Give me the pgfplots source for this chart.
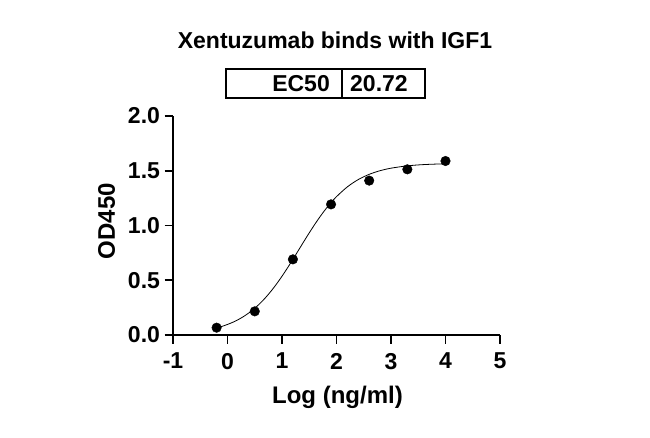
\documentclass[border=0pt]{standalone}
\usepackage{fontspec}
\setmainfont{Liberation Sans}
\usepackage{pgfplots}
\pgfplotsset{compat=1.18}
\begin{document}
\begin{tikzpicture}[x=1pt,y=1pt]
\useasboundingbox (0pt,0pt) rectangle (650pt,437pt);
% title and EC50 box
\node[anchor=base,font=\fontsize{23}{23}\selectfont\bfseries,inner sep=0] at (335pt,388pt) {Xentuzumab binds with IGF1};
\draw[line width=1.6pt] (226pt,339pt) rectangle (425pt,368pt);
\draw[line width=1.6pt] (342pt,339pt) -- (342pt,368pt);
\node[anchor=base east,font=\fontsize{23}{23}\selectfont\bfseries,inner sep=0] at (330pt,345.5pt) {EC50};
\node[anchor=base west,font=\fontsize{23}{23}\selectfont\bfseries,inner sep=0] at (350pt,345.5pt) {20.72};
\begin{axis}[
  at={(173pt,102pt)}, anchor=south west,
  width=327pt, height=219pt, scale only axis,
  xmin=-1, xmax=5, ymin=0, ymax=2,
  axis x line*=bottom, axis y line*=left,
  axis line style={line width=1.8pt},
  xtick={-1,0,1,2,3,4,5},
  ytick={0,0.5,1,1.5,2},
  yticklabel style={/pgf/number format/fixed,/pgf/number format/fixed zerofill,/pgf/number format/precision=1},
  /pgf/number format/assume math mode=true,
  tick align=outside,
  major tick length=8.5pt,
  every tick/.style={black,line width=1.8pt},
  tick label style={font=\fontsize{23}{23}\selectfont\bfseries},
  xticklabel style={yshift=-6pt},
  yticklabel style={xshift=-1pt},
  xlabel={Log (ng/ml)},
  ylabel={OD450},
  label style={font=\fontsize{24}{24}\selectfont\bfseries},
  xlabel style={at={(axis description cs:0.503,-0.315)},anchor=base,inner sep=0},
  ylabel style={at={(axis description cs:-0.1774,0.52)},anchor=base,inner sep=0},
  clip=false,
]
\addplot[black, line width=0.8pt, smooth] coordinates {
(-0.2,0.0650) (-0.1,0.0793) (0.0,0.0964) (0.1,0.1169) (0.2,0.1414) (0.3,0.1705)
(0.4,0.2046) (0.5,0.2444) (0.6,0.2902) (0.7,0.3425) (0.8,0.4012) (0.9,0.4662)
(1.0,0.5368) (1.1,0.6122) (1.2,0.6911) (1.3,0.7720) (1.4,0.8532) (1.5,0.9329)
(1.6,1.0096) (1.7,1.0819) (1.8,1.1487) (1.9,1.2095) (2.0,1.2638) (2.2,1.3533)
(2.4,1.4198) (2.6,1.4674) (2.8,1.5007) (3.0,1.5235) (3.3,1.5447) (3.6,1.5563) (4.0,1.5640)
};
\addplot[only marks, mark=*, mark size=4.8pt, black] coordinates {
(-0.2,0.067) (0.5,0.216) (1.2,0.691) (1.9,1.193) (2.6,1.41) (3.3,1.513) (4.0,1.589)
};
\end{axis}
\end{tikzpicture}
\end{document}
